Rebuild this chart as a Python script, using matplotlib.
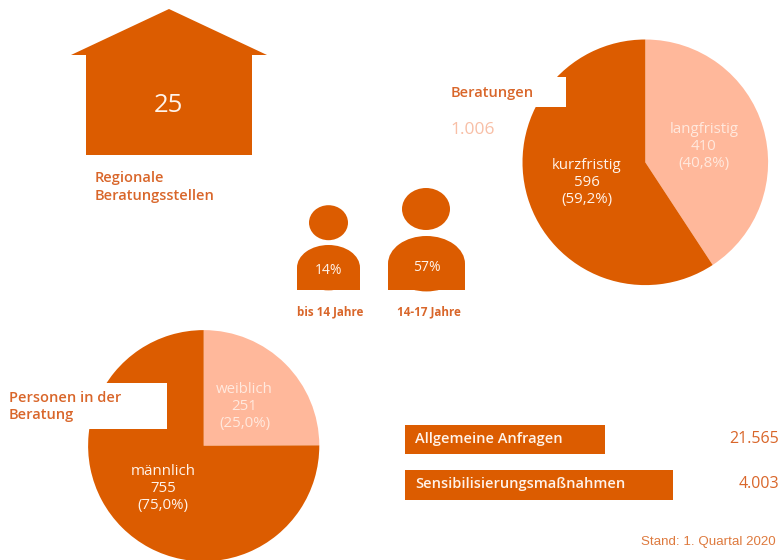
import matplotlib.pyplot as plt
from matplotlib.patches import Polygon, Rectangle, Ellipse

plt.rcParams['font.family'] = ['Open Sans', 'DejaVu Sans']

# data
beratungen_labels = ["langfristig", "kurzfristig"]
beratungen_values = [410, 596]
beratungen_pct = ["40,8%", "59,2%"]
personen_labels = ["weiblich", "männlich"]
personen_values = [251, 755]
personen_pct = ["25,0%", "75,0%"]
alter_labels = ["bis 14 Jahre", "14-17 Jahre"]
alter_pct = ["14%", "57%"]
anfragen_labels = ["Allgemeine Anfragen", "Sensibilisierungsmaßnahmen"]
anfragen_values = ["21.565", "4.003"]
stellen = "25"
beratungen_total = "1.006"

dark = "#DC5C00"
light = "#FFB89B"
text_orange = "#D9662A"
text_white = "#FFF3EA"
text_light = "#FFE9DE"


def Y(v):
    return 560 - v


fig = plt.figure(figsize=(7.84, 5.6), dpi=100)
ax = fig.add_axes([0, 0, 1, 1])


def label(x, y, s, size=10.5, color=text_orange, weight="semibold", ha="center", **kw):
    ax.text(x, Y(y + 1.5), s, fontsize=size, color=color, fontweight=weight, ha=ha, va="center", **kw)


def pie_text(x, ys, name, value, pct, color):
    label(x, ys[0], name, size=10.8, color=color, weight="medium")
    label(x, ys[1], str(value), size=10.8, color=color, weight="medium")
    label(x, ys[2], "(" + pct + ")", size=10.8, color=color, weight="medium")


# house
ax.add_patch(Polygon([(71, Y(55)), (169, Y(9)), (267, Y(55)), (252, Y(55)), (252, Y(155)),
                      (86, Y(155)), (86, Y(55))], closed=True, fc=dark, ec="none"))
label(168.5, 104.5, stellen, size=18.5, color=text_white, weight="medium")
label(95, 176.5, "Regionale", ha="left")
label(95, 194.5, "Beratungsstellen", ha="left")

# pie top right
ax.pie(beratungen_values, colors=[light, dark], startangle=90, counterclock=False,
       center=(645.3, Y(162.3)), radius=122.8, frame=True, wedgeprops={"linewidth": 0})
ax.add_patch(Rectangle((430, Y(107)), 136, 30, fc="white", ec="none", zorder=3))
label(451, 91, "Beratungen", ha="left", zorder=4)
label(450, 128, beratungen_total, size=12.5, color="#F8BFA6", weight="medium", ha="left", zorder=4)
pie_text(704, (128, 145, 162.5), beratungen_labels[0], beratungen_values[0], beratungen_pct[0], text_light)
pie_text(586.5, (164, 181, 198), beratungen_labels[1], beratungen_values[1], beratungen_pct[1], text_white)

# persons
person_geo = [(328.5, 222.7, 39, 35, 297, 360, 245), (426, 209, 48, 42, 388, 465, 236)]
pct_y = [269.5, 266]
for i, (cx, cy, w, h, x0, x1, top) in enumerate(person_geo):
    ax.add_patch(Ellipse((cx, Y(cy)), w, h, fc=dark, ec="none"))
    r = (x1 - x0) / 2
    ax.add_patch(Rectangle((x0, Y(290)), x1 - x0, 290 - top - r * 0.72, fc=dark, ec="none"))
    ax.add_patch(Ellipse(((x0 + x1) / 2, Y(top + r * 0.72)), x1 - x0, r * 1.44, fc=dark, ec="none"))
    label((x0 + x1) / 2, pct_y[i], alter_pct[i], size=10, color=text_white, weight="medium")
    label((x0 + x1) / 2 + 2, 310.5, alter_labels[i], size=8.4, weight="bold")

# pie bottom left
ax.pie(personen_values, colors=[light, dark], startangle=90, counterclock=False,
       center=(203.7, Y(445.7)), radius=115.6, frame=True, wedgeprops={"linewidth": 0})
ax.add_patch(Rectangle((0, Y(429)), 167, 46, fc="white", ec="none", zorder=3))
label(9, 396, "Personen in der", ha="left", zorder=4)
label(9, 414, "Beratung", ha="left", zorder=4)
pie_text(244.5, (388, 405.5, 422.5), personen_labels[0], personen_values[0], personen_pct[0], text_light)
pie_text(163, (470, 487, 504.5), personen_labels[1], personen_values[1], personen_pct[1], text_white)

# boxes
box_right = [605.3, 672.7]
box_top = [424.7, 470]
for i in range(2):
    ax.add_patch(Rectangle((405.3, Y(box_top[i] + 29.5)), box_right[i] - 405.3, 29.5, fc=dark, ec="none"))
    label(415, box_top[i] + 12.5, anfragen_labels[i], color=text_white, ha="left")
    label(779, box_top[i] + 13, anfragen_values[i], size=11.5, weight="medium", ha="right")

ax.text(776, Y(542), "Stand: 1. Quartal 2020", fontsize=9.6, color="#DE7A3E", ha="right", va="center",
        family=["Liberation Sans", "DejaVu Sans"])

ax.set_xlim(0, 784)
ax.set_ylim(0, 560)
ax.set_aspect("auto")
ax.axis("off")

fig.savefig("out.png", dpi=100)
